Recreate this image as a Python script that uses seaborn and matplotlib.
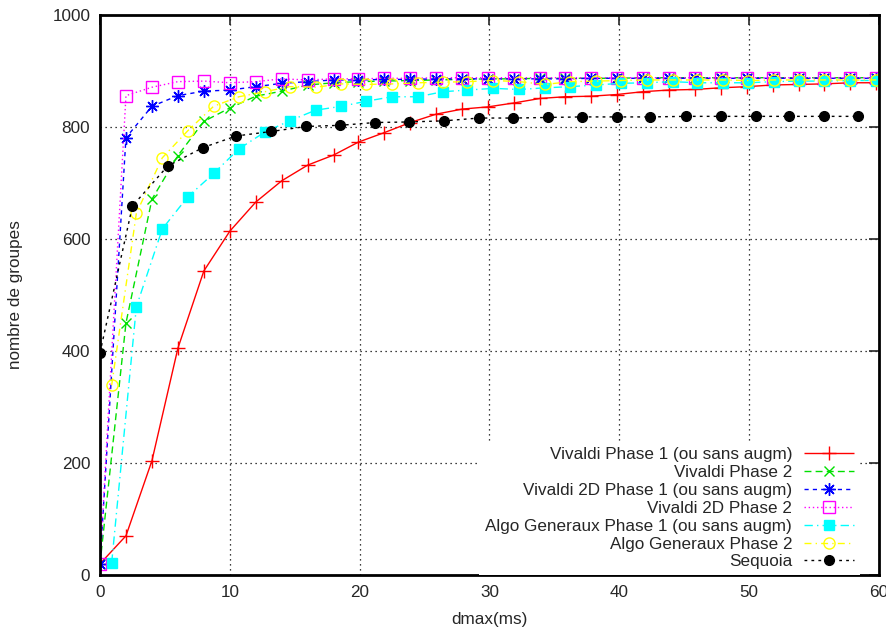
import seaborn as sns
import matplotlib
matplotlib.use("Agg")
import matplotlib.pyplot as plt

# x positions (ms)
x_vivaldi = [0, 2, 4, 6, 8, 10, 12, 14, 16, 18, 19.9, 21.9, 23.9, 25.9, 27.9, 29.9,
             31.9, 33.9, 35.8, 37.8, 39.8, 41.8, 43.8, 45.8, 47.8, 49.8, 51.8, 53.8,
             55.8, 57.8, 59.8]
x_algo = [0.9, 2.8, 4.8, 6.75, 8.75, 10.7, 12.7, 14.6, 16.6, 18.6, 20.5, 22.5, 24.5,
          26.4, 28.3, 30.3, 32.3, 34.3, 36.2, 38.2, 40.1, 42.1, 44.1, 46.0, 48.0, 49.9,
          51.9, 53.8, 55.8, 57.8, 59.8]
x_sequoia = [0, 2.5, 5.2, 7.9, 10.5, 13.2, 15.9, 18.5, 21.2, 23.8, 26.5, 29.2, 31.8,
             34.5, 37.1, 39.8, 42.4, 45.1, 47.8, 50.5, 53.1, 55.8, 58.4]

viv_p1 = [20, 70, 204, 405, 543, 614, 666, 704, 732, 750, 773, 790, 808, 823, 832, 836,
          843, 851, 854, 855, 858, 863, 866, 867, 870, 872, 875, 876, 877, 879, 879]
viv_p2 = [20, 450, 671, 749, 810, 834, 855, 864, 875, 879, 881, 882, 883, 884, 885, 886,
          886, 887, 887, 887, 887, 888, 888, 888, 888, 888, 888, 888, 888, 888, 888]
viv2d_p1 = [20, 781, 837, 856, 864, 866, 872, 878, 881, 884, 884, 885, 885, 886, 886, 886,
            886, 886, 886, 887, 887, 887, 887, 887, 887, 887, 887, 887, 887, 887, 887]
viv2d_p2 = [20, 856, 871, 881, 882, 879, 881, 886, 884, 886, 886, 887, 887, 888, 888, 888,
            888, 888, 888, 888, 888, 888, 888, 888, 888, 888, 888, 888, 888, 888, 888]
algo_p1 = [22, 479, 618, 675, 717, 761, 791, 811, 830, 837, 846, 854, 854, 863, 866, 869,
           867, 870, 872, 875, 878, 879, 881, 879, 879, 879, 881, 882, 882, 883, 883]
algo_p2 = [339, 646, 745, 793, 837, 854, 863, 872, 871, 877, 876, 877, 879, 880, 881, 883,
           881, 876, 881, 882, 883, 884, 884, 884, 884, 883, 884, 884, 884, 884, 884]
sequoia = [397, 659, 730, 763, 784, 792, 801, 803, 808, 809, 811, 816, 816, 817, 818, 818,
           818, 819, 819, 819, 819, 819, 819]

labels = ["Vivaldi Phase 1 (ou sans augm)", "Vivaldi Phase 2",
          "Vivaldi 2D Phase 1 (ou sans augm)", "Vivaldi 2D Phase 2",
          "Algo Generaux Phase 1 (ou sans augm)", "Algo Generaux Phase 2", "Sequoia"]

sns.set_style("white")
plt.rcParams["font.family"] = ["Liberation Sans", "DejaVu Sans"]
plt.rcParams["font.size"] = 12.3

fig = plt.figure(figsize=(8.87, 6.3), dpi=100)
ax = fig.add_axes([100 / 887, 55 / 630, 779 / 887, 560 / 630])

series = [
    (x_vivaldi, viv_p1, "#ff0000", "+", "none", (0, ()), 10),
    (x_vivaldi, viv_p2, "#00e000", "x", "none", (0, (5, 3)), 7),
    (x_vivaldi, viv2d_p1, "#0000ff", (8, 2, 0), "none", (0, (3, 3)), 9),
    (x_vivaldi, viv2d_p2, "#ff00ff", "s", "none", (0, (1, 2)), 8),
    (x_algo, algo_p1, "#00ffff", "s", "#00ffff", (0, (6, 3, 1, 3)), 7),
    (x_algo, algo_p2, "#ffff00", "o", "none", (0, (5, 3, 1, 3)), 8),
    (x_sequoia, sequoia, "#000000", "o", "#000000", (0, (2, 3)), 7),
]

for (xs, ys, col, mk, mfc, ls, ms), lab in zip(series, labels):
    sns.lineplot(x=xs, y=ys, ax=ax, color=col, marker=mk, markersize=ms,
                 markerfacecolor=mfc, markeredgecolor=col, markeredgewidth=1.0,
                 linestyle=ls, linewidth=1.0, label=lab, sort=False)

ax.set_xlim(0, 60)
ax.set_ylim(0, 1000)
ax.set_xticks(range(0, 61, 10))
ax.set_yticks(range(0, 1001, 200))
ax.grid(True, color="black", linestyle=(0, (1, 3)), linewidth=0.9)
ax.set_axisbelow(True)
ax.tick_params(direction="in", length=7, width=1.2, top=True, right=True,
               labelsize=12.3, pad=7)
for sp in ax.spines.values():
    sp.set_linewidth(2)
    sp.set_color("black")

ax.set_xlabel("dmax(ms)", fontsize=12.3, labelpad=9)
ax.set_ylabel("nombre de groupes", fontsize=12.3, labelpad=21)

# markerfirst=False puts the sample on the right and right-aligns the labels
leg = ax.legend(loc="lower right", bbox_to_anchor=(0.986, -0.016), markerfirst=False,
                frameon=True, fancybox=False, framealpha=1, edgecolor="white",
                handlelength=2.9, handletextpad=0.7, labelspacing=0.17,
                borderpad=0.35, fontsize=12.3)
leg.get_frame().set_linewidth(0)

fig.savefig("out.png", dpi=100)
